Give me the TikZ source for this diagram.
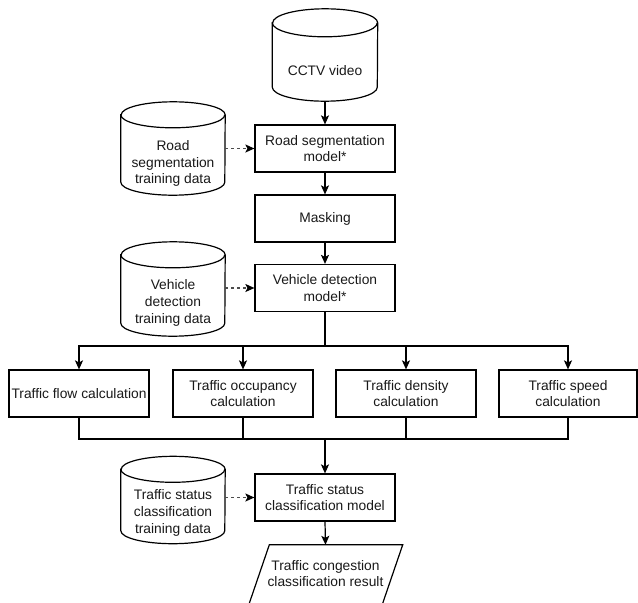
\documentclass[tikz,border=0pt]{standalone}
\usepackage{fontspec}
\setmainfont{Liberation Sans}
\usetikzlibrary{arrows.meta}
% cylinder drawn round a (shape-only) node: name, half width, ellipse y radius
\newcommand\drawcyl[3]{%
  \draw[line width=1.2pt] ([yshift=-#3]#1.north west) -- ([yshift=#3]#1.south west)
    arc[start angle=180, end angle=360, x radius=#2, y radius=#3]
    -- ([yshift=-#3]#1.north east)
    arc[start angle=0, end angle=180, x radius=#2, y radius=#3] -- cycle;
  \draw[line width=1.2pt] ([yshift=-#3]#1.north west)
    arc[start angle=180, end angle=360, x radius=#2, y radius=#3];}
\begin{document}
\begin{tikzpicture}[x=1pt,y=-1pt,
  font=\fontsize{13.8}{16.7}\selectfont,
  every node/.style={inner sep=0pt, align=center, text=black!90},
  proc/.style={draw, line width=1.2pt, minimum width=140pt, minimum height=47pt},
  cylshape/.style={minimum width=104pt, minimum height=#1},
  arr/.style={-{Stealth[length=9pt,width=8pt,inset=2pt]}, line width=1.2pt},
  plain/.style={line width=1.2pt},
  darr/.style={line width=1.2pt, dash pattern=on 3pt off 3pt, draw=black!70, -{Stealth[length=9pt,width=8pt,inset=2pt,color=black]}},
]
\fill[white] (0,0) rectangle (638,603);
\useasboundingbox (0,0) rectangle (638,603);

% process boxes
\node[proc] (rsm) at (325,148.5) {Road segmentation\\model*};
\node[proc] (mask) at (325,218.5) {Masking};
\node[proc] (vdm) at (325,288) {Vehicle detection\\model*};
\node[proc] (flow) at (79,393.5) {Traffic flow calculation};
\node[proc] (occ) at (243,393.5) {Traffic occupancy\\calculation};
\node[proc] (den) at (406,393.5) {Traffic density\\calculation};
\node[proc, minimum width=138pt] (spd) at (568,393.5) {Traffic speed\\calculation};
\node[proc] (tsc) at (325,497.5) {Traffic status\\classification model};

% cylinders
\node[cylshape=92pt, minimum width=105pt] (cctv) at (325,55) {};
\drawcyl{cctv}{52.5pt}{14pt}
\node (cctvt) at ([yshift=-16pt]cctv.center) {CCTV video};

\node[cylshape=93pt] (rtd) at (173,148.5) {};
\drawcyl{rtd}{52pt}{13pt}
\node (rtdt) at ([yshift=-15pt]rtd.center) {Road\\segmentation\\training data};

\node[cylshape=94pt] (vtd) at (173,289) {};
\drawcyl{vtd}{52pt}{13pt}
\node (vtdt) at ([yshift=-14pt]vtd.center) {Vehicle\\detection\\training data};

\node[cylshape=87pt] (stt) at (173,500) {};
\drawcyl{stt}{52pt}{13pt}
\node (sttt) at ([yshift=-13pt]stt.center) {Traffic status\\classification\\training data};

% result parallelogram
\node[minimum width=133pt, minimum height=61pt] (res) at (325.5,575.5) {};
\draw[line width=1.2pt] ([xshift=10.5pt]res.north west) -- ([xshift=10.5pt]res.north east)
  -- ([xshift=-10.5pt]res.south east) -- ([xshift=-10.5pt]res.south west) -- cycle;
\node (rest) at ([yshift=2pt]res.center) {Traffic congestion\\classification result};

% connectors
\draw[arr] (cctv.south) -- (rsm.north);
\draw[arr] (rsm.south) -- (mask.north);
\draw[arr] (mask.south) -- (vdm.north);

\draw[darr] (rtd.east |- rsm.west) -- (rsm.west);
\draw[darr] (vtd.east |- vdm.west) -- (vdm.west);
\draw[darr] (stt.east |- tsc.west) -- (tsc.west);

\coordinate (split) at (325,346);
\draw[plain] (vdm.south) -- (split);
\draw[arr] (split) -| (flow.north);
\draw[arr] (split) -| (occ.north);
\draw[arr] (split) -| (den.north);
\draw[arr] (split) -| (spd.north);

\coordinate (merge) at (325,439);
\draw[plain] (flow.south) |- (merge);
\draw[plain] (occ.south) |- (merge);
\draw[plain] (den.south) |- (merge);
\draw[plain] (spd.south) |- (merge);
\draw[arr] (merge) -- (tsc.north);

\draw[arr] (tsc.south) -- (res.north);
\end{tikzpicture}
\end{document}
